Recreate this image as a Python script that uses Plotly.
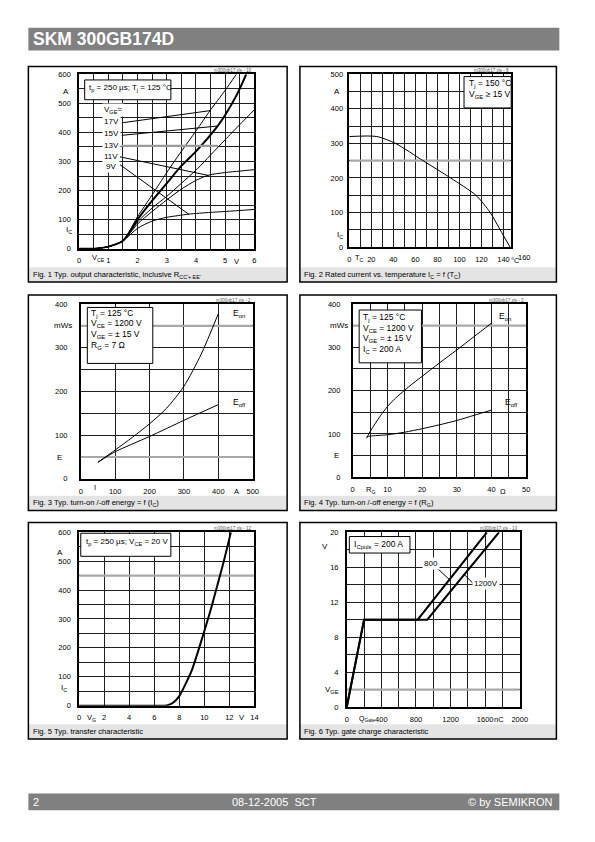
import plotly.graph_objects as go

# ---------------- data ----------------
# Fig. 1 output characteristic  (V_CE in V, I_C in A)
f1_vce_17 = [0, 0.5, 1, 1.5, 2, 2.5, 3, 3.5, 4, 4.48, 5, 5.38]
f1_ic_17 = [0, 0, 7, 27, 110, 185, 262, 335, 405, 475, 545, 600]
f1_vce_15 = [0, 0.5, 1, 1.5, 2, 2.5, 3, 3.5, 4, 4.74, 5, 5.4, 5.72]
f1_ic_15 = [0, 0, 7, 27, 100, 165, 225, 285, 335, 422, 460, 530, 600]
f1_vce_13 = [0, 0.5, 1, 1.5, 2, 2.5, 3, 3.5, 4, 4.76, 5, 5.5, 6]
f1_ic_13 = [0, 0, 7, 27, 92, 140, 180, 225, 270, 350, 375, 427, 478]
f1_vce_11 = [0, 0.5, 1, 1.5, 2, 2.5, 3, 3.5, 4, 4.43, 5, 5.5, 6]
f1_ic_11 = [0, 0, 7, 27, 85, 128, 168, 205, 235, 253, 262, 267, 272]
f1_vce_9 = [0, 0.5, 1, 1.5, 2, 2.5, 3, 3.4, 3.76, 4.5, 5, 6]
f1_ic_9 = [0, 0, 7, 27, 70, 95, 108, 114, 119, 125, 128, 135]
f1_labels = ["V<sub>GE</sub>=", "17V", "15V", "13V", "11V", "9V"]

# Fig. 2 rated current vs. case temperature
f2_tc = [0, 25, 42, 67, 92, 115, 128, 137, 146]
f2_ic = [320, 320, 300, 250, 200, 150, 100, 50, 0]

# Fig. 3 switching energy vs. collector current
f3_ic_on = [50, 100, 150, 200, 250, 300, 350, 400]
f3_eon = [38, 66, 95, 126, 162, 212, 285, 378]
f3_ic_off = [50, 100, 200, 300, 400]
f3_eoff = [38, 62, 97, 134, 170]

# Fig. 4 switching energy vs. gate resistance
f4_rg_on = [4, 5, 6, 8, 10, 12, 16, 20, 25, 30, 35, 40]
f4_eon = [90, 105, 118, 142, 163, 180, 208, 233, 264, 294, 325, 356]
f4_rg_off = [4, 5, 10, 15, 20, 25, 30, 35, 40]
f4_eoff = [93, 95, 98, 104, 112, 121, 131, 143, 155]

# Fig. 5 transfer characteristic
f5_vge = [0, 6, 7, 7.5, 8, 8.5, 9, 9.5, 10, 10.5, 11, 11.5, 12, 12.12]
f5_ic = [0, 0, 1, 10, 33, 75, 122, 188, 258, 330, 410, 490, 578, 600]

# Fig. 6 gate charge characteristic
f6_q_800 = [0, 200, 820, 1620]
f6_v_800 = [0, 10, 10, 20]
f6_q_1200 = [0, 200, 930, 1760]
f6_v_1200 = [0, 10, 10, 20]

# tick labels
f1_xticks = [0, 1, 2, 3, 4, 5, 6]
f1_yticks = [0, 100, 200, 300, 400, 500, 600]
f2_xticks = [0, 20, 40, 60, 80, 100, 120, 140]
f2_yticks = [0, 100, 200, 300, 400, 500]
f3_xticks = [0, 100, 200, 300, 400, 500]
f3_yticks = [0, 100, 200, 300, 400]
f4_xticks = [0, 10, 20, 30, 40, 50]
f4_yticks = [0, 100, 200, 300, 400]
f5_xticks = [0, 2, 4, 6, 8, 10, 12, 14]
f5_yticks = [0, 100, 200, 300, 400, 500, 600]
f6_xticks = [0, 400, 800, 1200, 1600, 2000]
f6_yticks = [0, 4, 8, 12, 16, 20]

# ---------------- layout helpers ----------------
FONT = "Liberation Sans, Arial, sans-serif"
W, H, OFF = 579, 826, 8   # the page body keeps its default 8px margin
GRID = "#1e1e1e"
TICK = 7.5


def PX(x):
    return (x - OFF) / W


def PY(y):
    return 1 - (y - OFF) / H


fig = go.Figure()
shapes = []
annos = []


def rect(x0, y0, x1, y1, fill=None, line="black", lw=1.0, layer="above"):
    shapes.append(dict(type="rect", xref="paper", yref="paper",
                       x0=PX(x0), x1=PX(x1), y0=PY(y1), y1=PY(y0),
                       fillcolor=fill if fill else "rgba(0,0,0,0)",
                       line=dict(color=line, width=lw), layer=layer))


def txt(x, y, s, size=7.5, xa="center", ya="middle", color="black",
        bold=False, bg=None):
    font = dict(family=FONT, size=size, color=color)
    if bold:
        font["weight"] = "bold"
    a = dict(xref="paper", yref="paper", x=PX(x), y=PY(y), text=s,
             showarrow=False, xanchor=xa, yanchor=ya, font=font)
    if bg:
        a["bgcolor"] = bg
    annos.append(a)


def dline(n, x0, y0, x1, y1, color="black", lw=1, layer="above"):
    sx = "x" if n == 1 else f"x{n}"
    sy = "y" if n == 1 else f"y{n}"
    shapes.append(dict(type="line", xref=sx, yref=sy, x0=x0, y0=y0, x1=x1,
                       y1=y1, line=dict(color=color, width=lw), layer=layer))


panels = {
    1: dict(box=(26.7, 63, 290, 281), band=266, plot=(78.3, 71, 256.7, 247.3)),
    2: dict(box=(303, 63, 564, 281), band=266, plot=(353.3, 71, 517.3, 245.7)),
    3: dict(box=(26.7, 294, 290, 512), band=497, plot=(80, 303.3, 255, 480)),
    4: dict(box=(303, 294, 564, 512), band=497, plot=(356.7, 303.3, 533.3, 478.3)),
    5: dict(box=(26.7, 524, 290, 743), band=728, plot=(78.3, 534, 256.7, 709.3)),
    6: dict(box=(303, 524, 564, 743), band=728, plot=(350.7, 534, 526.7, 710.7)),
}

axis_cfg = {
    1: dict(xr=[0, 6], xt=f1_xticks, xm=0.5, yr=[0, 600], yt=f1_yticks, ym=50, ys=5),
    2: dict(xr=[0, 146.4], xt=f2_xticks, xm=10, yr=[0, 500], yt=f2_yticks, ym=50, ys=3),
    3: dict(xr=[0, 500], xt=f3_xticks, xm=None, yr=[0, 400], yt=f3_yticks, ym=50, ys=10),
    4: dict(xr=[0, 50], xt=f4_xticks, xm=5, yr=[0, 400], yt=f4_yticks, ym=50, ys=9),
    5: dict(xr=[0, 14], xt=f5_xticks, xm=None, yr=[0, 600], yt=f5_yticks, ym=50, ys=5),
    6: dict(xr=[0, 2000], xt=f6_xticks, xm=200, yr=[0, 20], yt=f6_yticks, ym=2, ys=5),
}

# gridlines that print as a soft grey double line in the scanned sheet
grey_grid = {2: [250], 3: [50, 350], 4: [350], 5: [450], 6: [2]}

captions = {
    1: "Fig. 1 Typ. output characteristic, inclusive R<sub>CC'+ EE'</sub>",
    2: "Fig. 2 Rated current vs. temperature I<sub>C</sub> = f (T<sub>C</sub>)",
    3: "Fig. 3 Typ. turn-on /-off energy = f (I<sub>C</sub>)",
    4: "Fig. 4 Typ. turn-on /-off energy = f (R<sub>G</sub>)",
    5: "Fig. 5 Typ. transfer characteristic",
    6: "Fig. 6 Typ. gate charge characteristic",
}
ids = {1: "m300gb17.xls - 10", 2: "m300gb17.xls - 8", 3: "m300gb17.xls - 2",
       4: "m300gb17.xls - 3", 5: "m300gb17.xls - 12", 6: "m300gb17.xls - 13"}

layout_axes = {}
for n, p in panels.items():
    bx0, by0, bx1, by1 = p["box"]
    rect(bx0, p["band"], bx1, by1, fill="#e4e4e4", line="rgba(0,0,0,0)", lw=0,
         layer="below")
    rect(bx0, by0, bx1, by1, line="black", lw=1.5)
    txt(bx0 + 2.5, (p["band"] + by1) / 2, captions[n], size=7.6, xa="left")
    x0, y0, x1, y1 = p["plot"]
    txt(x1, y0 - 4, ids[n], size=4.5, xa="right", color="#555")
    c = axis_cfg[n]
    xa = dict(range=c["xr"], domain=[PX(x0), PX(x1)], anchor="y" if n == 1 else f"y{n}",
              showline=True, mirror=True, linecolor="black", linewidth=1.5,
              showgrid=True, gridcolor=GRID, gridwidth=1, zeroline=False,
              ticks="", tickmode="array", tickvals=c["xt"],
              ticktext=[str(v) for v in c["xt"]],
              tickfont=dict(family=FONT, size=TICK, color="black"),
              ticklabelstandoff=4, fixedrange=True)
    if c["xm"]:
        xa["minor"] = dict(tickmode="linear", tick0=0, dtick=c["xm"], showgrid=True,
                           gridcolor=GRID, gridwidth=1, ticks="")
    ya = dict(range=c["yr"], domain=[PY(y1), PY(y0)], anchor="x" if n == 1 else f"x{n}",
              showline=True, mirror=True, linecolor="black", linewidth=1.5,
              showgrid=True, gridcolor=GRID, gridwidth=1, zeroline=False,
              ticks="", tickmode="array", tickvals=c["yt"],
              ticktext=[str(v) for v in c["yt"]],
              tickfont=dict(family=FONT, size=TICK, color="black"),
              ticklabelstandoff=c["ys"], fixedrange=True)
    if c["ym"]:
        ya["minor"] = dict(tickmode="linear", tick0=0, dtick=c["ym"], showgrid=True,
                           gridcolor=GRID, gridwidth=1, ticks="")
    layout_axes["xaxis" if n == 1 else f"xaxis{n}"] = xa
    layout_axes["yaxis" if n == 1 else f"yaxis{n}"] = ya
    for gy in grey_grid.get(n, []):
        dline(n, c["xr"][0], gy, c["xr"][1], gy, color="#a8a8a8", lw=2.2,
              layer="between")


def curve(n, xs, ys, lw=1, spline=True):
    fig.add_trace(go.Scatter(
        x=xs, y=ys, mode="lines", xaxis="x" if n == 1 else f"x{n}",
        yaxis="y" if n == 1 else f"y{n}", hoverinfo="skip", showlegend=False,
        line=dict(color="black", width=lw, shape="spline" if spline else "linear",
                  smoothing=0.7)))


# ---- Fig 1
curve(1, f1_vce_17, f1_ic_17, 1)
curve(1, f1_vce_13, f1_ic_13, 1)
curve(1, f1_vce_11, f1_ic_11, 1)
curve(1, f1_vce_9, f1_ic_9, 1)
curve(1, f1_vce_15, f1_ic_15, 2)
dline(1, 1.46, 433, 4.48, 475)
dline(1, 1.46, 390, 4.74, 422)
dline(1, 1.46, 354, 4.76, 354, color="#9a9a9a", lw=2.2)
dline(1, 1.40, 316, 4.43, 252)
dline(1, 1.40, 289, 3.76, 118)
for s, (lx, ly) in zip(f1_labels, [(112.7, 107), (111.7, 119), (111.7, 131),
                                    (111.7, 143), (110.7, 154), (110.7, 164)]):
    txt(lx, ly, s, size=8, bg="white")
rect(84, 76.7, 171.7, 96.7, fill="white", lw=1)
txt(86, 85, "t<sub>p</sub> = 250 µs; T<sub>j</sub> = 125 °C", size=8, xa="left")
txt(65, 88.3, "A", size=8)
txt(68, 228, "I<sub>C</sub>", size=8)
txt(98.3, 256.7, "V<sub>CE</sub>", size=TICK)
txt(238.3, 260.5, "V", size=TICK)

# ---- Fig 2
curve(2, f2_tc, f2_ic, 1)
rect(470, 73.3, 518, 105, fill="white", lw=1)
txt(472.7, 80.7, "T<sub>j</sub> = 150 °C", size=8.5, xa="left")
txt(472.7, 91.5, "V<sub>GE</sub> ≥ 15 V", size=8.5, xa="left")
txt(340.7, 88.3, "A", size=8)
txt(343.3, 233, "I<sub>C</sub>", size=8)
txt(363.3, 256.7, "T<sub>C</sub>", size=TICK)
txt(522.5, 259.5, "°C", size=TICK)
txt(531.5, 256.7, "160", size=TICK)

# ---- Fig 3
curve(3, f3_ic_on, f3_eon, 1)
curve(3, f3_ic_off, f3_eoff, 1)
rect(86.7, 306.7, 153.3, 363.3, fill="white", lw=1)
for s, yy in zip(["T<sub>j</sub> = 125 °C", "V<sub>CE</sub> = 1200 V",
                  "V<sub>GE</sub> = ± 15 V", "R<sub>G</sub> = 7 Ω"],
                 [312.7, 323.3, 334.3, 345]):
    txt(88.3, yy, s, size=8.5, xa="left")
txt(61.7, 325, "mWs", size=8)
txt(58.3, 458.3, "E", size=8)
txt(94, 489, "I", size=TICK)
txt(238.3, 492.3, "A", size=TICK)
txt(233.3, 313.3, "E<sub>on</sub>", size=8.5, xa="left")
txt(233.3, 403.3, "E<sub>off</sub>", size=8.5, xa="left")

# ---- Fig 4
curve(4, f4_rg_on, f4_eon, 1)
curve(4, f4_rg_off, f4_eoff, 1)
rect(363.3, 309.3, 426.7, 362.7, fill="white", lw=1)
for s, yy in zip(["T<sub>j</sub> = 125 °C", "V<sub>CE</sub> = 1200 V",
                  "V<sub>GE</sub> = ± 15 V", "I<sub>C</sub> = 200 A"],
                 [316.7, 327.5, 338.5, 349.5]):
    txt(365, yy, s, size=8.5, xa="left")
txt(342.5, 325, "mWs", size=8)
txt(340, 456.7, "E", size=8)
txt(375.8, 491.7, "R<sub>G</sub>", size=TICK)
txt(510, 492.3, "Ω", size=TICK)
txt(504, 316, "E<sub>on</sub>", size=8.5, xa="left")
txt(510, 402.7, "E<sub>off</sub>", size=8.5, xa="left")

# ---- Fig 5
curve(5, f5_vge, f5_ic, 2)
rect(80, 535, 171.7, 558.3, fill="white", lw=1)
txt(83.3, 544.3, "t<sub>p</sub> = 250 µs; V<sub>CE</sub> = 20 V", size=8, xa="left")
txt(59.3, 554.3, "A", size=8)
txt(63.3, 691, "I<sub>C</sub>", size=8)
txt(90.7, 721.7, "V<sub>G</sub>", size=TICK)
txt(243.3, 721, "V", size=TICK)

# ---- Fig 6
curve(6, f6_q_800, f6_v_800, 2, spline=False)
curve(6, f6_q_1200, f6_v_1200, 2, spline=False)
dline(6, 1045, 15.9, 1185, 14.6)
dline(6, 1355, 15.2, 1465, 14.1)
txt(436.7, 565.7, "800", size=8, bg="white")
txt(492.3, 586, "1200V", size=8, bg="white")
rect(353.3, 538.3, 415, 555, fill="white", lw=1)
txt(356, 546, "I<sub>Cpuls</sub> = 200 A", size=8.5, xa="left")
txt(328.3, 548.3, "V", size=8)
txt(335.7, 693.3, "V<sub>GE</sub>", size=8)
txt(371, 722.3, "Q<sub>Gate</sub>", size=7)
txt(506, 723.5, "nC", size=TICK)

# ---- header / footer
rect(26.7, 24, 567, 47, fill="#808080", line="rgba(0,0,0,0)", lw=0)
txt(29, 35.5, "SKM 300GB174D", size=17.5, xa="left", color="white", bold=True)
rect(26.7, 798, 567, 815, fill="#808080", line="rgba(0,0,0,0)", lw=0)
txt(29, 806.5, "2", size=11, xa="left", color="white")
txt(277, 806.5, "08-12-2005\u00a0\u00a0SCT", size=11, color="white")
txt(563, 806.5, "© by SEMIKRON", size=11, xa="right", color="white")

fig.update_layout(width=W, height=H, margin=dict(l=0, r=0, t=0, b=0),
                  paper_bgcolor="white", plot_bgcolor="white", showlegend=False,
                  font=dict(family=FONT, color="black"),
                  shapes=shapes, annotations=annos, **layout_axes)

fig.write_html("out.html")
